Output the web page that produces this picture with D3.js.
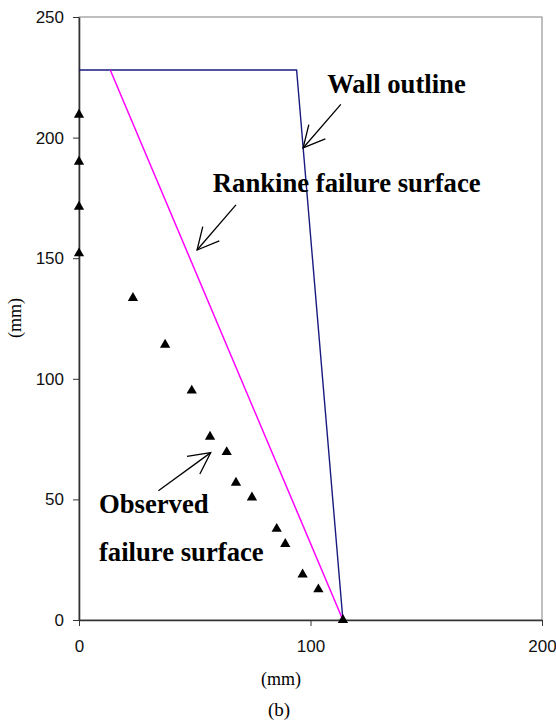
<!DOCTYPE html>
<html>
<head>
<meta charset="utf-8">
<script src="https://cdn.jsdelivr.net/npm/d3@7"></script>
<style>
  html, body { margin: 0; padding: 0; background: #fff; }
  svg { display: block; }
</style>
</head>
<body>
<svg id="chart" width="556" height="722"></svg>
<script>
// ---- data ----
const xTicks = [0, 100, 200];
const yTicks = [0, 50, 100, 150, 200, 250];
const wallX = [0, 94, 114];
const wallY = [228, 228, 0];
const rankineX = [13.5, 114];
const rankineY = [228, 0];
const observedX = [0, 0, 0, 0, 23.3, 37.2, 48.7, 56.6, 63.8, 67.8, 74.7, 85.4, 89.1, 96.6, 103.4, 114];
const observedY = [209.5, 190, 171.3, 152, 133.5, 114.1, 95.1, 76.0, 69.6, 56.9, 50.8, 37.8, 31.5, 18.9, 12.7, 0];
const labelTexts = ["Wall outline", "Rankine failure surface", "Observed", "failure surface"];
const labelX = [107.2, 57.8, 8.6, 8.6];
const labelY = [218.5, 177.4, 44.3, 24.4];
const arrowTailX = [113.1, 67.8, 34.3];
const arrowTailY = [213.8, 172.1, 53.6];
const arrowTipX = [96.8, 51.0, 56.9];
const arrowTipY = [195.7, 153.4, 69.4];

// ---- layout ----
const svg = d3.select("#chart");
const mLeft = 79, mRight = 542, mTop = 17, mBottom = 620;
const x = d3.scaleLinear().domain([0, 200]).range([mLeft, mRight]);
const y = d3.scaleLinear().domain([0, 250]).range([mBottom, mTop]);

// plot frame
svg.append("rect")
  .attr("x", mLeft).attr("y", mTop)
  .attr("width", mRight - mLeft).attr("height", mBottom - mTop)
  .attr("fill", "none").attr("stroke", "#808080").attr("stroke-width", 1);

// axes
const xAxis = svg.append("g")
  .attr("transform", `translate(0,${mBottom})`)
  .call(d3.axisBottom(x).tickValues(xTicks).tickSize(6).tickSizeOuter(0).tickPadding(14));
const yAxis = svg.append("g")
  .attr("transform", `translate(${mLeft},0)`)
  .call(d3.axisLeft(y).tickValues(yTicks).tickSize(6).tickSizeOuter(0).tickPadding(9));
[xAxis, yAxis].forEach(g => {
  g.select(".domain").attr("stroke", "#333").attr("stroke-width", 1.6);
  g.selectAll(".tick line").attr("stroke", "#333").attr("stroke-width", 1);
  g.selectAll(".tick text")
    .attr("font-family", "Liberation Sans, Arial, sans-serif")
    .attr("font-size", 17).attr("fill", "#111");
});

// wall outline
const line = d3.line().x(d => x(d[0])).y(d => y(d[1]));
svg.append("path")
  .attr("d", line(wallX.map((v, i) => [v, wallY[i]])))
  .attr("fill", "none").attr("stroke", "#1a1a80").attr("stroke-width", 1.4);

// rankine
svg.append("path")
  .attr("d", line(rankineX.map((v, i) => [v, rankineY[i]])))
  .attr("fill", "none").attr("stroke", "#ff00ff").attr("stroke-width", 1.5);

// observed markers
const tri = d3.symbol().type(d3.symbolTriangle).size(46);
svg.append("g").selectAll("path")
  .data(observedX.map((v, i) => [v, observedY[i]]))
  .join("path")
  .attr("d", tri)
  .attr("transform", d => `translate(${x(d[0])},${y(d[1])})`)
  .attr("fill", "#000");

// arrows
const ag = svg.append("g").attr("stroke", "#000").attr("stroke-width", 1.3).attr("fill", "none");
arrowTipX.forEach((_, i) => {
  const tx = x(arrowTipX[i]), ty = y(arrowTipY[i]);
  const sx = x(arrowTailX[i]), sy = y(arrowTailY[i]);
  const ang = Math.atan2(sy - ty, sx - tx);
  const L = 24, h = 27 * Math.PI / 180;
  const w1 = [tx + L * Math.cos(ang + h), ty + L * Math.sin(ang + h)];
  const w2 = [tx + L * Math.cos(ang - h), ty + L * Math.sin(ang - h)];
  ag.append("path").attr("d", `M${sx},${sy}L${tx},${ty}`);
  ag.append("path").attr("d", `M${w1[0]},${w1[1]}L${tx},${ty}L${w2[0]},${w2[1]}`);
});

// annotation labels
svg.append("g").selectAll("text")
  .data(labelTexts)
  .join("text")
  .attr("x", (d, i) => x(labelX[i]))
  .attr("y", (d, i) => y(labelY[i]))
  .attr("font-family", "Liberation Serif, Times New Roman, serif")
  .attr("font-weight", "bold").attr("font-size", 26.7)
  .attr("fill", "#000")
  .text(d => d);

// axis titles
svg.append("text")
  .attr("x", 281).attr("y", 685)
  .attr("text-anchor", "middle")
  .attr("font-family", "Liberation Serif, Times New Roman, serif")
  .attr("font-size", 18).text("(mm)");
svg.append("text")
  .attr("transform", "translate(21,318) rotate(-90)")
  .attr("text-anchor", "middle")
  .attr("font-family", "Liberation Serif, Times New Roman, serif")
  .attr("font-size", 18).text("(mm)");
svg.append("text")
  .attr("x", 279).attr("y", 716)
  .attr("text-anchor", "middle")
  .attr("font-family", "Liberation Serif, Times New Roman, serif")
  .attr("font-size", 19).text("(b)");
</script>
</body>
</html>
